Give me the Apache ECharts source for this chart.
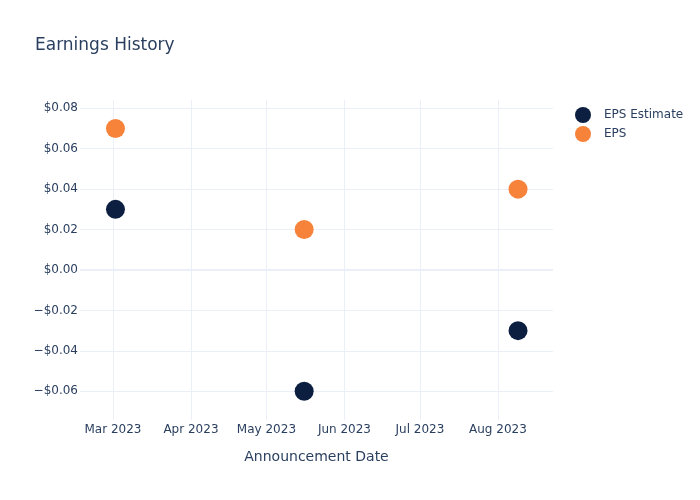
<!DOCTYPE html>
<html>
<head>
<meta charset="utf-8">
<script src="https://cdn.jsdelivr.net/npm/echarts@6/dist/echarts.min.js"></script>
<style>html,body{margin:0;padding:0;background:#fff}#c{width:700px;height:500px}</style>
</head>
<body>
<div id="c"></div>
<script>
var dates = ['2023-03-02', '2023-05-16', '2023-08-09'];
var epsEstimate = [0.03, -0.06, -0.03];
var eps = [0.07, 0.02, 0.04];
var yTicks = [-0.06, -0.04, -0.02, 0, 0.02, 0.04, 0.06, 0.08];

function toTs(s) { var p = s.split('-'); return new Date(+p[0], +p[1] - 1, +p[2]).getTime(); }
var DAY = 86400000;
var xMin = new Date(2023, 2, 1).getTime() - 13.1 * DAY;
var xMax = new Date(2023, 7, 1).getTime() + 21.9 * DAY;
var months = ['Jan','Feb','Mar','Apr','May','Jun','Jul','Aug','Sep','Oct','Nov','Dec'];
var font = 'DejaVu Sans';
var textColor = '#2a3f5f';
var gridColor = '#ebf0f8';

var chart = echarts.init(document.getElementById('c'), null, {renderer: 'canvas'});
chart.setOption({
  animation: false,
  backgroundColor: '#fff',
  title: {
    text: 'Earnings History', left: 30, top: 32,
    textStyle: {fontFamily: font, fontSize: 17, fontWeight: 'normal', color: textColor}
  },
  legend: {
    orient: 'vertical', left: 570, top: 102, itemGap: 3,
    itemWidth: 16, itemHeight: 16, icon: 'circle',
    textStyle: {fontFamily: font, fontSize: 12, color: textColor, padding: [0, 0, 0, 8]},
    data: ['EPS Estimate', 'EPS']
  },
  grid: {left: 80, right: 147, top: 100, bottom: 80},
  xAxis: {
    type: 'time', min: xMin, max: xMax,
    minInterval: 28 * DAY, maxInterval: 31 * DAY,
    name: 'Announcement Date', nameLocation: 'middle', nameGap: 30,
    nameTextStyle: {fontFamily: font, fontSize: 14, color: textColor},
    axisLine: {show: false}, axisTick: {show: false},
    axisLabel: {
      fontFamily: font, fontSize: 12, color: textColor, margin: 4,
      hideOverlap: false,
      formatter: function (v) { var d = new Date(v); return months[d.getMonth()] + ' ' + d.getFullYear(); }
    },
    splitLine: {show: true, showMinLine: false, showMaxLine: false, lineStyle: {color: gridColor, width: 1}}
  },
  yAxis: {
    type: 'value', min: -0.0742, max: 0.0841,
    axisLine: {show: false},
    axisTick: {show: false, customValues: yTicks},
    axisLabel: {
      fontFamily: font, fontSize: 12, color: textColor, margin: 2,
      customValues: yTicks,
      formatter: function (v) { var s = '$' + Math.abs(v).toFixed(2); return v < -1e-9 ? '\u2212' + s : s; }
    },
    splitLine: {show: true, lineStyle: {color: gridColor, width: 1}}
  },
  series: [
    {
      name: 'EPS Estimate', type: 'scatter', symbolSize: 19,
      itemStyle: {color: '#0c1f41', opacity: 1},
      data: dates.map(function (d, i) { return [toTs(d), epsEstimate[i]]; }),
      markLine: {
        silent: true, symbol: 'none', label: {show: false},
        lineStyle: {color: gridColor, width: 2, type: 'solid'},
        data: [{yAxis: 0}], z: 1
      }
    },
    {
      name: 'EPS', type: 'scatter', symbolSize: 19,
      itemStyle: {color: '#f7823a', opacity: 1},
      data: dates.map(function (d, i) { return [toTs(d), eps[i]]; })
    }
  ]
});
</script>
</body>
</html>
